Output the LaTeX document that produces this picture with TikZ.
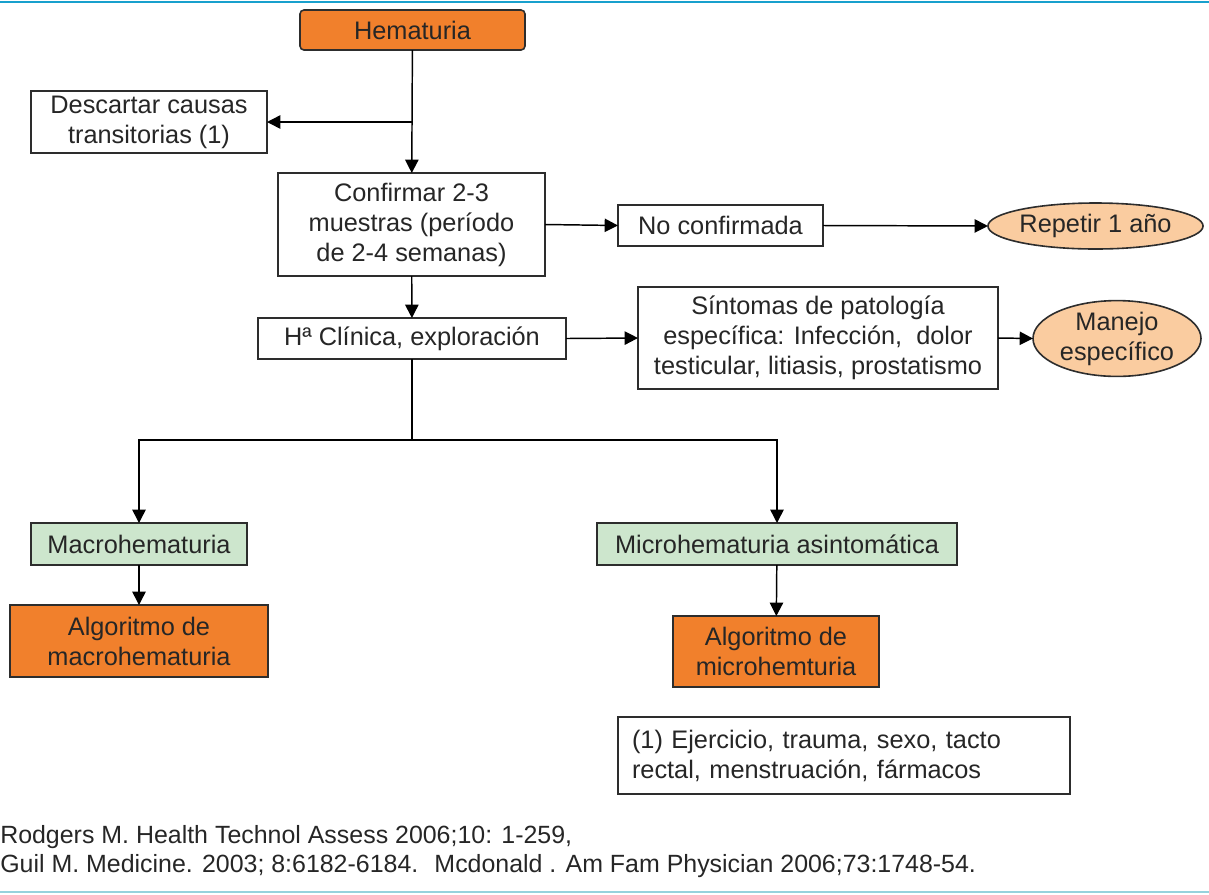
\documentclass[tikz,border=0pt]{standalone}
\usepackage{fontspec}
\setmainfont{Liberation Sans}
\usetikzlibrary{arrows.meta,shapes.geometric}

\definecolor{naranja}{RGB}{241,128,44}
\definecolor{melocoton}{RGB}{250,204,160}
\definecolor{verdeclaro}{RGB}{205,230,205}
\definecolor{borde}{RGB}{45,45,45}
\definecolor{azulraya}{RGB}{24,160,205}
\definecolor{celeste}{RGB}{150,210,220}

\tikzset{
  caja/.style={draw=borde, line width=1.2pt, fill=white, inner sep=0pt, outer sep=0pt,
    align=center, font=\fontsize{19}{22.5}\selectfont, text=black!85},
  ovalo/.style={caja, ellipse, fill=melocoton},
  flecha/.style={line width=1.1pt, -{Triangle[length=10pt,width=10pt]}},
  linea/.style={line width=1.1pt},
}

\begin{document}
\begin{tikzpicture}[x=0.75pt, y=-0.75pt]
  \useasboundingbox (0,0) rectangle (1209,894);
  \draw[azulraya, line width=2pt] (0,2) -- (1209,2);
  \draw[celeste, line width=1.5pt] (0,892) -- (1209,892);

  \node[caja, fill=naranja, rounded corners=3pt, minimum width=168.75pt, minimum height=30pt] (hema) at (412.5,30) {Hematuria};
  \node[caja, minimum width=177pt, minimum height=46.5pt] (descartar) at (149,122) {Descartar causas\\transitorias (1)};
  \node[caja, minimum width=200.25pt, minimum height=77.25pt] (confirmar) at (411.5,224.5) {Confirmar 2-3\\muestras (período\\de 2-4 semanas)};
  \node[caja, minimum width=153.75pt, minimum height=30.75pt] (noconf) at (720.5,225.5) {No confirmada};
  \node[ovalo, minimum width=131.25pt, minimum height=34.5pt] (repetir) at (1095.5,226) {Repetir 1 año};
  \node[caja, minimum width=231pt, minimum height=30.75pt] (clinica) at (412,338.5) {Hª Clínica, exploración};
  \node[caja, minimum width=270pt, minimum height=76.5pt] (sintomas) at (818,338) {Síntomas de patología\\específica: Infección,~ dolor\\testicular, litiasis, prostatismo};
  \node[ovalo, minimum width=126pt, minimum height=53.25pt] (manejo) at (1117,338.5) {Manejo\\específico};
  \node[caja, fill=verdeclaro, minimum width=162pt, minimum height=31.5pt] (macro) at (139,544) {Macrohematuria};
  \node[caja, fill=verdeclaro, minimum width=270pt, minimum height=31.5pt] (micro) at (777,544) {Microhematuria asintomática};
  \node[caja, fill=naranja, minimum width=193.5pt, minimum height=54pt] (algmacro) at (139,641) {Algoritmo de\\macrohematuria};
  \node[caja, fill=naranja, minimum width=154.5pt, minimum height=53.25pt] (algmicro) at (776,651.5) {Algoritmo de\\microhemturia};
  \node[caja, minimum width=339pt, minimum height=57.75pt, align=left, text width=318pt] (nota) at (844,755.5) {(1) Ejercicio, trauma, sexo, tacto\\rectal, menstruación, fármacos};

  % conectores
  \coordinate (rama) at (412.5,122);
  \coordinate (reparto) at (412,440);
  \draw[flecha] (hema) -- (confirmar);
  \draw[flecha] (rama) -- (descartar.east);
  \draw[flecha] (confirmar.east) -- (noconf.west);
  \draw[flecha] (noconf.east) -- (repetir.west);
  \draw[flecha] (confirmar) -- (clinica);
  \draw[flecha] (clinica.east) -- (sintomas.west);
  \draw[flecha] (sintomas.east) -- (manejo.west);
  \draw[linea] (clinica.south) -- (reparto);
  \draw[flecha] (reparto) -| (macro.north);
  \draw[flecha] (reparto) -| (micro.north);
  \draw[flecha] (macro) -- (algmacro);
  \draw[flecha] (micro) -- (algmicro);

  % referencias
  \node[anchor=west, inner sep=0pt, align=left, text=black!85, font=\fontsize{18.7}{21.75}\selectfont] (refs) at (0,852)
    {Rodgers M. Health Technol Assess 2006;10: 1-259,\\Guil M. Medicine. 2003; 8:6182-6184.~ Mcdonald . Am Fam Physician 2006;73:1748-54.};
\end{tikzpicture}
\end{document}
